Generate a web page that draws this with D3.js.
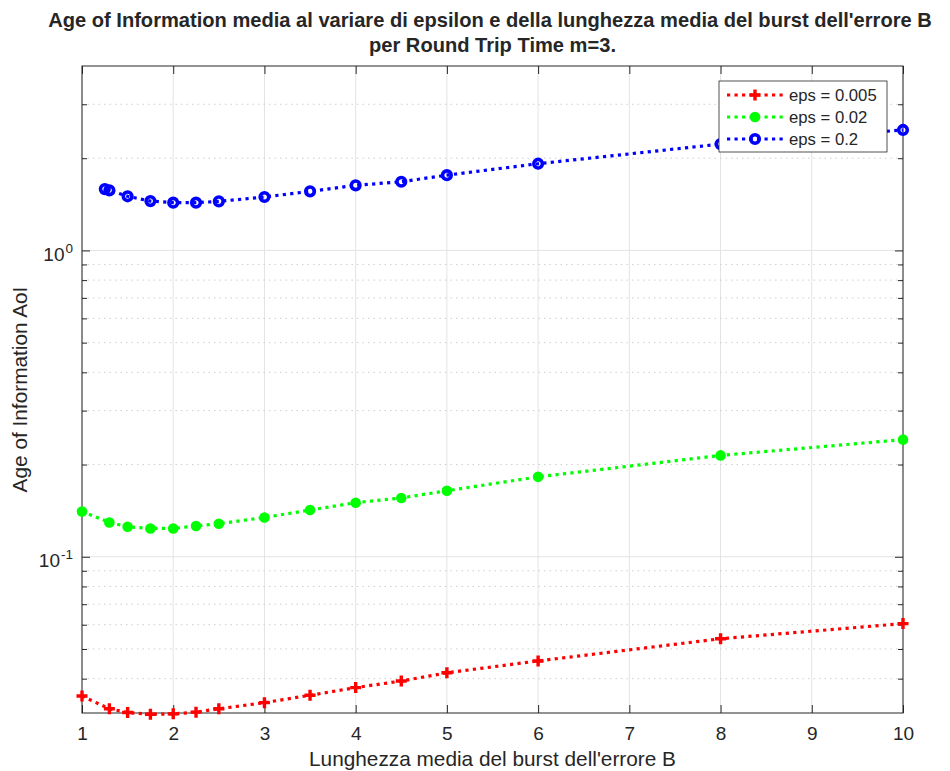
<!DOCTYPE html>
<html>
<head>
<meta charset="utf-8">
<script src="https://cdn.jsdelivr.net/npm/d3@7"></script>
<style>
	body { margin: 0; background: #fff; }
	text { font-family: "Liberation Sans", Arial, Helvetica, sans-serif; fill: #262626; }
</style>
</head>
<body>
<div id="chartDiv"></div>
<script>
// Data
const bVals = [1, 1.3, 1.5, 1.75, 2, 2.25, 2.5, 3, 3.5, 4, 4.5, 5, 6, 8, 10];
const bValsBlue = [1.25, 1.3, 1.5, 1.75, 2, 2.25, 2.5, 3, 3.5, 4, 4.5, 5, 6, 8, 10];
const aoiEps005 = [0.0351, 0.0319, 0.0310, 0.0306, 0.0307, 0.0311, 0.0319, 0.0334, 0.0353, 0.0374, 0.0393, 0.0418, 0.0457, 0.0540, 0.0605];
const aoiEps02 = [0.1406, 0.1294, 0.1253, 0.1237, 0.1237, 0.1260, 0.1282, 0.1344, 0.1421, 0.1501, 0.1556, 0.1643, 0.1823, 0.2142, 0.2412];
const aoiEps2 = [1.586, 1.571, 1.502, 1.449, 1.432, 1.432, 1.446, 1.494, 1.559, 1.631, 1.676, 1.761, 1.919, 2.224, 2.473];
const legendLabels = ["eps = 0.005", "eps = 0.02", "eps = 0.2"];
const xTicks = [1, 2, 3, 4, 5, 6, 7, 8, 9, 10];
const yMajorTicks = [0.1, 1];
const yMinorTicks = [0.04, 0.05, 0.06, 0.07, 0.08, 0.09, 0.2, 0.3, 0.4, 0.5, 0.6, 0.7, 0.8, 0.9, 2, 3];
const yDomain = [0.0309, 4];

const series = [
	{ name: legendLabels[0], x: bVals, y: aoiEps005, color: "#ff0000", marker: "plus" },
	{ name: legendLabels[1], x: bVals, y: aoiEps02, color: "#00ff00", marker: "dot" },
	{ name: legendLabels[2], x: bValsBlue, y: aoiEps2, color: "#0000ff", marker: "circle" }
];

const W = 950, H = 771;
const margin = { top: 66, right: 47, bottom: 58, left: 82 };
const width = W - margin.left - margin.right,
	height = H - margin.top - margin.bottom;

const svg = d3.select("#chartDiv").append("svg")
	.attr("width", W)
	.attr("height", H);

const g = svg.append("g")
	.attr("transform", `translate(${margin.left}, ${margin.top})`);

const x = d3.scaleLinear().domain([1, 10]).range([0, width]);
const y = d3.scaleLog().domain(yDomain).range([height, 0]);

// grid
g.selectAll(".xgrid")
	.data(xTicks)
	.join("line")
	.attr("x1", d => x(d)).attr("x2", d => x(d))
	.attr("y1", 0).attr("y2", height)
	.attr("stroke", "#e3e3e3")
	.attr("stroke-width", 1);
g.selectAll(".ygridMinor")
	.data(yMinorTicks)
	.join("line")
	.attr("x1", 0).attr("x2", width)
	.attr("y1", d => y(d)).attr("y2", d => y(d))
	.attr("stroke", "#cfcfcf")
	.attr("stroke-width", 1)
	.attr("stroke-dasharray", "1.5,4");
g.selectAll(".ygridMajor")
	.data(yMajorTicks)
	.join("line")
	.attr("x1", 0).attr("x2", width)
	.attr("y1", d => y(d)).attr("y2", d => y(d))
	.attr("stroke", "#e3e3e3")
	.attr("stroke-width", 1);

// axes box with inward ticks
const axisColor = "#262626";
g.append("rect")
	.attr("x", 0).attr("y", 0)
	.attr("width", width).attr("height", height)
	.attr("fill", "none")
	.attr("stroke", axisColor)
	.attr("stroke-width", 1);

const bottomAxis = g.append("g")
	.attr("transform", `translate(0, ${height})`)
	.call(d3.axisBottom(x).tickValues(xTicks).tickSize(-8).tickPadding(27).tickFormat(d3.format("d")));
const topAxis = g.append("g")
	.call(d3.axisTop(x).tickValues(xTicks).tickSize(-8).tickFormat(""));
const leftMinor = g.append("g")
	.call(d3.axisLeft(y).tickValues(yMinorTicks).tickSize(-5).tickFormat(""));
const rightMinor = g.append("g")
	.attr("transform", `translate(${width}, 0)`)
	.call(d3.axisRight(y).tickValues(yMinorTicks).tickSize(-5).tickFormat(""));
const leftMajor = g.append("g")
	.call(d3.axisLeft(y).tickValues(yMajorTicks).tickSize(-8).tickFormat(""));
const rightMajor = g.append("g")
	.attr("transform", `translate(${width}, 0)`)
	.call(d3.axisRight(y).tickValues(yMajorTicks).tickSize(-8).tickFormat(""));

[bottomAxis, topAxis, leftMinor, rightMinor, leftMajor, rightMajor].forEach(a => {
	a.select(".domain").remove();
	a.selectAll("line").attr("stroke", axisColor);
});
bottomAxis.selectAll("text")
	.attr("font-size", "19px")
	.attr("fill", axisColor)
	.attr("dy", "0");

// y tick labels 10^0, 10^-1
g.selectAll(".ylab")
	.data(yMajorTicks)
	.join("text")
	.attr("x", -9)
	.attr("y", d => y(d) + 10.5)
	.attr("text-anchor", "end")
	.attr("font-size", "19px")
	.each(function(d) {
		const t = d3.select(this);
		t.append("tspan").text("10");
		t.append("tspan")
			.attr("dx", "1")
			.attr("dy", "-0.6em")
			.attr("font-size", "13.5px")
			.text(Math.round(Math.log10(d)));
	});

// lines and markers
const line = d3.line()
	.x(d => x(d[0]))
	.y(d => y(d[1]));

function drawMarker(sel, type, color) {
	if (type === "plus") {
		sel.append("path")
			.attr("d", "M-5.5,0H5.5M0,-5.5V5.5")
			.attr("stroke", color)
			.attr("stroke-width", 3.4)
			.attr("fill", "none");
	} else if (type === "dot") {
		sel.append("circle")
			.attr("r", 5.3)
			.attr("fill", color);
	} else {
		sel.append("circle")
			.attr("r", 4.3)
			.attr("fill", "none")
			.attr("stroke", color)
			.attr("stroke-width", 3.6);
	}
}

series.forEach(s => {
	const pts = s.x.map((v, i) => [v, s.y[i]]);
	g.append("path")
		.datum(pts)
		.attr("d", line)
		.attr("fill", "none")
		.attr("stroke", s.color)
		.attr("stroke-width", 3.2)
		.attr("stroke-dasharray", "3.2,4.3");
	g.selectAll(null)
		.data(pts)
		.join("g")
		.attr("transform", d => `translate(${x(d[0])}, ${y(d[1])})`)
		.each(function() { drawMarker(d3.select(this), s.marker, s.color); });
});

// legend
const legend = svg.append("g").attr("transform", "translate(719, 81)");
legend.append("rect")
	.attr("width", 168).attr("height", 71)
	.attr("fill", "#fff")
	.attr("stroke", axisColor)
	.attr("stroke-width", 0.8);
series.forEach((s, i) => {
	const row = legend.append("g").attr("transform", `translate(0, ${14 + i * 22})`);
	row.append("line")
		.attr("x1", 8).attr("x2", 64)
		.attr("stroke", s.color)
		.attr("stroke-width", 3.2)
		.attr("stroke-dasharray", "3.2,4.3");
	drawMarker(row.append("g").attr("transform", "translate(36, 0)"), s.marker, s.color);
	row.append("text")
		.attr("x", 70)
		.attr("y", 6)
		.attr("font-size", "16.7px")
		.text(s.name);
});

// title and axis labels
svg.append("text")
	.attr("x", 490)
	.attr("y", 27)
	.attr("text-anchor", "middle")
	.attr("font-size", "20.1px")
	.attr("font-weight", "bold")
	.attr("fill", "#000")
	.text("Age of Information media al variare di epsilon e della lunghezza media del burst dell'errore B");
svg.append("text")
	.attr("x", margin.left + width / 2)
	.attr("y", 52)
	.attr("text-anchor", "middle")
	.attr("font-size", "20.1px")
	.attr("font-weight", "bold")
	.attr("fill", "#000")
	.text("per Round Trip Time m=3.");
svg.append("text")
	.attr("x", margin.left + width / 2)
	.attr("y", 766)
	.attr("text-anchor", "middle")
	.attr("font-size", "20.8px")
	.text("Lunghezza media del burst dell'errore B");
svg.append("text")
	.attr("transform", `translate(27, ${margin.top + height / 2}) rotate(-90)`)
	.attr("text-anchor", "middle")
	.attr("font-size", "20.8px")
	.text("Age of Information AoI");
</script>
</body>
</html>
